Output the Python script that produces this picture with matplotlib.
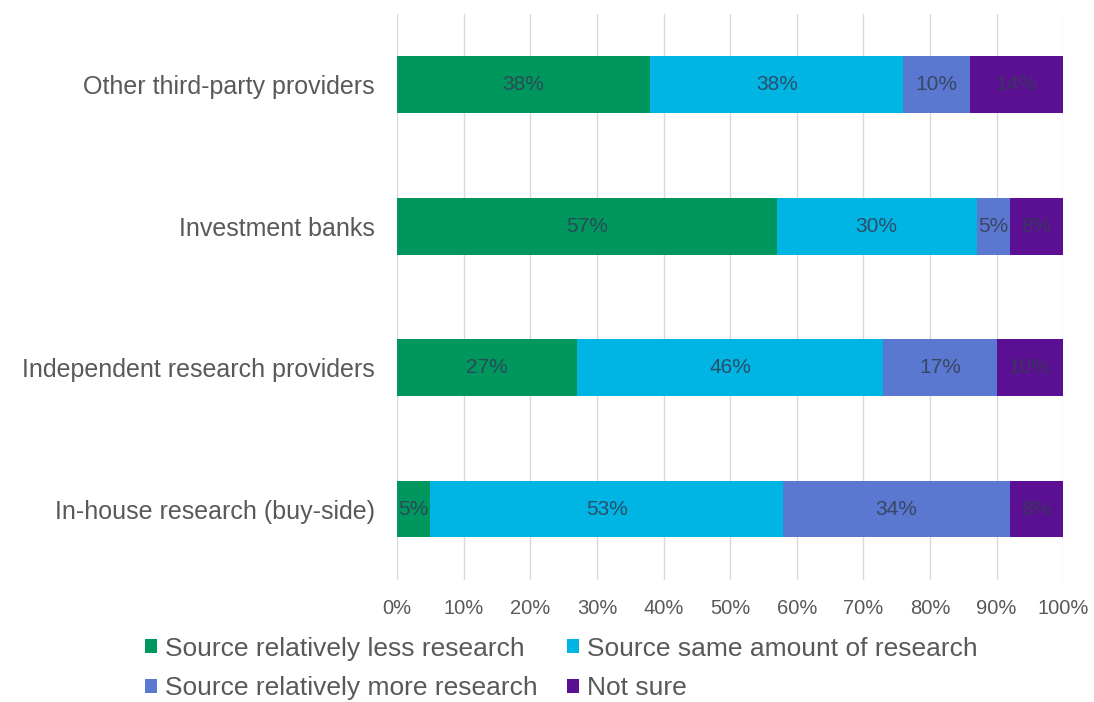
import numpy as np
import matplotlib.pyplot as plt

plt.rcParams['font.family'] = ['Liberation Sans', 'DejaVu Sans']

# Datos del gráfico (de abajo hacia arriba)
categories = ["In-house research (buy-side)", "Independent research providers",
              "Investment banks", "Other third-party providers"]
series_names = ["Source relatively less research", "Source same amount of research",
                "Source relatively more research", "Not sure"]
less_research = [5, 27, 57, 38]
same_research = [53, 46, 30, 38]
more_research = [34, 17, 5, 10]
not_sure = [8, 10, 8, 14]
x_ticks = [0, 10, 20, 30, 40, 50, 60, 70, 80, 90, 100]

colors = ["#00975f", "#00b4e3", "#5a78cf", "#5b0f93"]
series = [less_research, same_research, more_research, not_sure]

fig = plt.figure(figsize=(10.94, 7.02), dpi=100)
ax = fig.add_axes([0.363, 0.174, 0.6088, 0.806])

y = np.arange(len(categories))
left = np.zeros(len(categories))
handles = []
for name, vals, col in zip(series_names, series, colors):
    vals = np.array(vals, dtype=float)
    h = ax.barh(y, vals, left=left, height=0.4, color=col, label=name, zorder=3)
    handles.append(h)
    for yi, v, l in zip(y, vals, left):
        ax.text(l + v / 2, yi, f"{int(v)}%", ha='center', va='center',
                fontsize=15, color='#333d55', alpha=0.85, zorder=4)
    left += vals

ax.set_xlim(0, 100)
ax.set_ylim(-0.5, 3.5)
ax.set_yticks(y)
ax.set_yticklabels(categories, fontsize=18, color='#595959')
ax.set_xticks(x_ticks)
ax.set_xticklabels([f"{t}%" for t in x_ticks], fontsize=14.5, color='#595959')
ax.tick_params(axis='both', length=0)
ax.tick_params(axis='x', pad=14)
ax.tick_params(axis='y', pad=16)
ax.grid(axis='x', color='#d9d9d9', linewidth=1, zorder=0)
for s in ax.spines.values():
    s.set_visible(False)

order = [0, 2, 1, 3]
fig.legend([handles[i] for i in order], [series_names[i] for i in order],
           loc='center', bbox_to_anchor=(0.513, 0.0477), ncol=2, frameon=False,
           fontsize=19, labelcolor='#595959', handlelength=0.45, handleheight=0.45,
           handletextpad=0.3, columnspacing=1.1, labelspacing=0.6)

fig.savefig("out.png", dpi=100)
